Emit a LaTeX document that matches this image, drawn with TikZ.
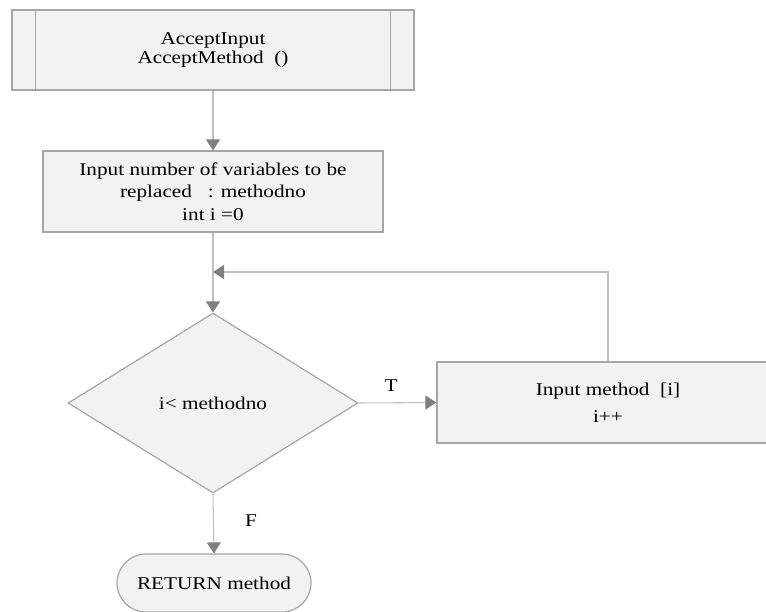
\documentclass[tikz,border=0pt]{standalone}
\usepackage{fontspec}
\setmainfont{Liberation Serif}[FakeStretch=1.18]
\usetikzlibrary{arrows.meta,shapes.geometric}

\definecolor{boxfill}{HTML}{F2F2F2}
\definecolor{boxline}{HTML}{A6A6A6}
\definecolor{connline}{HTML}{BFBFBF}
\definecolor{tipgray}{HTML}{7F7F7F}

% text size with a given baseline distance
\newcommand{\txt}[1]{\fontsize{13.5}{#1}\selectfont}

\tikzset{
  base/.style={draw=boxline, fill=boxfill, line width=0.9pt, inner sep=0pt,
               font=\txt{13.8}, align=center},
  procbox/.style={base, rectangle},
  decbox/.style={base, diamond, minimum width=217.5pt, minimum height=135pt},
  termbox/.style={base, rectangle, rounded corners=21.75pt},
  conn/.style={draw=connline, line width=0.8pt,
               -{Triangle[length=8.25pt,width=10.5pt,color=tipgray]}},
  lbl/.style={font=\txt{16}, inner sep=0pt}
}

\begin{document}
\begin{tikzpicture}[x=0.75pt, y=-0.75pt]
  \useasboundingbox (0,0) rectangle (766,611);

  % predefined process: the entry routine
  \node[procbox, minimum width=301.5pt, minimum height=60pt] (tb) at (213,50)
    {AcceptInput\\AcceptMethod\ \ ()};
  \draw[boxline, line width=0.9pt]
    ([xshift=18pt]tb.north west) -- ([xshift=18pt]tb.south west)
    ([xshift=-18pt]tb.north east) -- ([xshift=-18pt]tb.south east);

  % read the count and initialise the counter
  \node[procbox, minimum width=255pt, minimum height=60.75pt,
        font=\txt{16.9}] (ib) at (213,191.5)
    {Input number of variables to be\\replaced\ \ \ : methodno\\int i =0};

  % loop test
  \node[decbox] (dec) at (213,403) {i< methodno};

  % loop body
  \node[procbox, minimum width=256.5pt, minimum height=60.75pt,
        font=\txt{20.25}] (inp) at (608,402.5)
    {Input method\ \ [i]\\i++};

  % terminal
  \node[termbox, minimum width=145.5pt, minimum height=43.5pt] (ret) at (214,583)
    {RETURN method};

  % junction where the loop returns
  \coordinate (merge) at (213,272);

  % connectors
  \draw[conn] (tb.south) -- (ib.north);
  \draw[conn] (ib.south) -- (dec.north);
  \draw[conn] (inp.north) |- (merge);
  \draw[conn] (dec.east) -- (inp.west);
  \draw[conn] (dec.south) -- (ret.north);

  % branch labels
  \node[lbl] (tlbl) at (391,386) {T};
  \node[lbl] (flbl) at (251,521) {F};
\end{tikzpicture}
\end{document}
